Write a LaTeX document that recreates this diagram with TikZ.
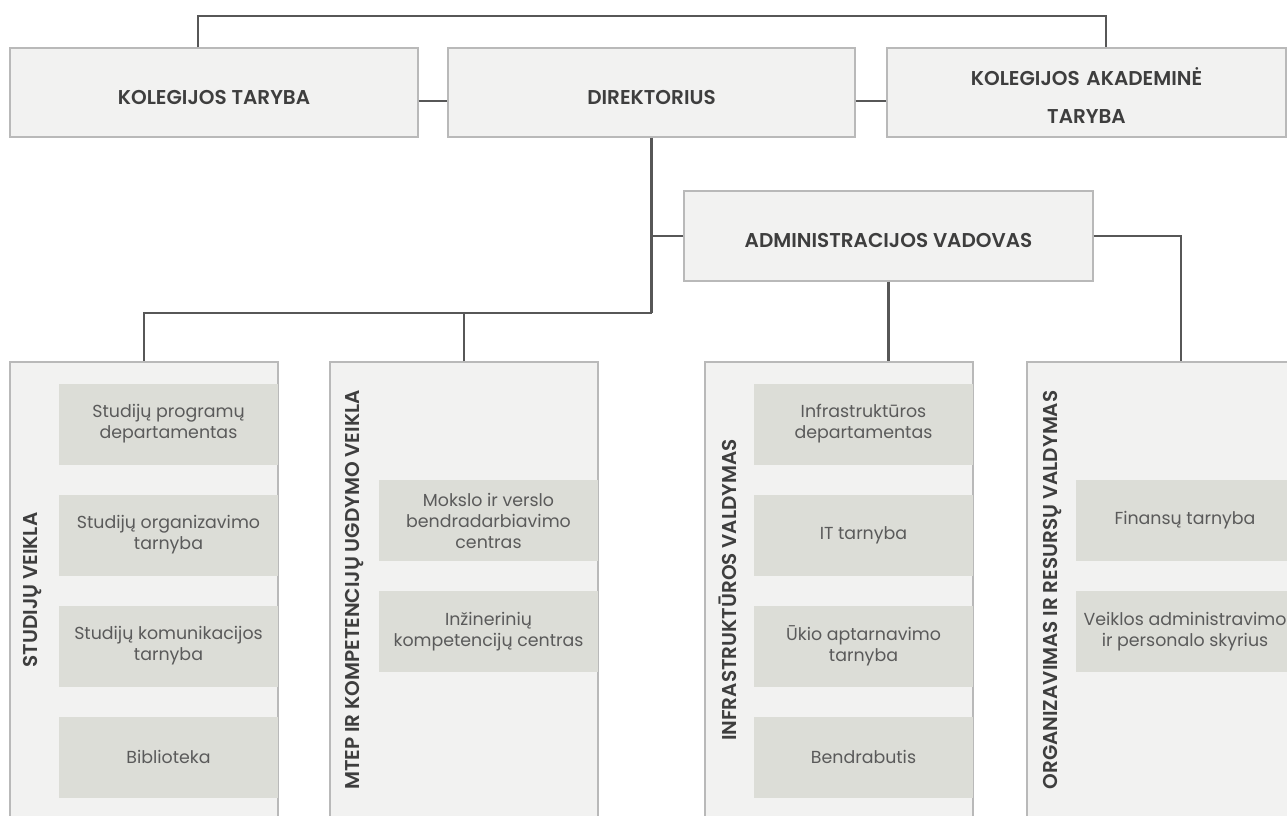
\documentclass[tikz,border=0pt]{standalone}
\usepackage{fontspec}
\IfFontExistsTF{Poppins SemiBold}
  {\setmainfont{Poppins}[BoldFont={Poppins SemiBold}]}
  {\setmainfont{Poppins}}
\usetikzlibrary{calc}

\definecolor{boxfill}{HTML}{F2F2F1}
\definecolor{boxline}{HTML}{B9B9B9}
\definecolor{subfill}{HTML}{DCDDD7}
\definecolor{linkcol}{HTML}{575757}
\definecolor{headtext}{HTML}{3E3E3E}
\definecolor{subtext}{HTML}{5A5A5A}

\tikzset{
  topbox/.style={draw=boxline, line width=1.2pt, fill=boxfill, inner sep=0pt,
    font=\fontsize{20}{24}\selectfont\bfseries, text=headtext, align=center},
  colbox/.style={draw=boxline, line width=1.2pt, fill=boxfill, inner sep=0pt,
    minimum width=268pt, minimum height=470pt},
  subbox/.style={fill=subfill, inner sep=0pt, minimum width=219pt, minimum height=81pt,
    font=\fontsize{17.4}{21}\selectfont, text=subtext, align=center},
  vlabel/.style={rotate=90, inner sep=0pt, font=\fontsize{20}{24}\selectfont\bfseries, text=headtext},
  link/.style={draw=linkcol, line width=2.5pt}
}

\begin{document}
\begin{tikzpicture}[x=1pt,y=-1pt]
% picture frame, same size as the page
\useasboundingbox (0,0) rectangle (1287,816);
\fill[white] (0,0) rectangle (1287,816);
\clip (0,0) rectangle (1287,816);

% top row
\node[topbox, minimum width=408pt, text height=56pt, text depth=33pt] (kt) at (214,92.5) {KOLEGIJOS TARYBA};
\node[topbox, minimum width=407pt, text height=56pt, text depth=33pt] (dir) at (651.5,92.5) {DIREKTORIUS};
\node[topbox, text width=399pt, text height=37pt, text depth=52pt,
  font=\fontsize{20}{38}\selectfont\bfseries] (kat) at (1086.5,92.5) {KOLEGIJOS AKADEMIN\.E\\TARYBA};

% second level
\node[topbox, minimum width=409pt, text height=56pt, text depth=34pt] (adm) at (888.5,236) {ADMINISTRACIJOS VADOVAS};

% columns
\node[colbox] (c1) at (144,597) {};
\node[colbox] (c2) at (464,597) {};
\node[colbox] (c3) at (839,597) {};
\node[colbox] (c4) at (1161,597) {};

\node[vlabel] (c1t) at (33,590) {STUDIJŲ VEIKLA};
\node[vlabel] (c2t) at (355,590) {MTEP IR KOMPETENCIJŲ UGDYMO VEIKLA};
\node[vlabel] (c3t) at (728,590) {INFRASTRUKTŪROS VALDYMAS};
\node[vlabel] (c4t) at (1053,590) {ORGANIZAVIMAS IR RESURSŲ VALDYMAS};

% units inside the columns
\node[subbox] (s11) at (168.5,424) {Studijų programų\\departamentas};
\node[subbox] (s12) at (168.5,535) {Studijų organizavimo\\tarnyba};
\node[subbox] (s13) at (168.5,646) {Studijų komunikacijos\\tarnyba};
\node[subbox] (s14) at (168.5,757) {Biblioteka};

\node[subbox] (s21) at (488.5,520.5) {Mokslo ir verslo\\bendradarbiavimo\\centras};
\node[subbox] (s22) at (488.5,631.5) {Inžinerinių\\kompetencijų centras};

\node[subbox] (s31) at (863.5,424) {Infrastruktūros\\departamentas};
\node[subbox] (s32) at (863.5,535) {IT tarnyba};
\node[subbox] (s33) at (863.5,646) {Ūkio aptarnavimo\\tarnyba};
\node[subbox] (s34) at (863.5,757) {Bendrabutis};

\node[subbox] (s41) at (1185,520.5) {Finansų tarnyba};
\node[subbox] (s42) at (1185,631.5) {Veiklos administravimo\\ir personalo skyrius};

% connectors
\coordinate (tl) at (198,16);
\coordinate (tr) at (1106,16);
\coordinate (my) at (0,101);
\coordinate (hub) at (651.5,313);
\draw[link] (kt.north -| tl) -- (tl) -- (tr) -- (kat.north -| tr);
\draw[link] (kt.east |- my) -- (dir.west |- my);
\draw[link] (dir.east |- my) -- (kat.west |- my);
\draw[link] (dir.south) -- (hub);
\draw[link] (adm.west) -- (adm.west -| hub);
\draw[link] (hub) -| (c1.north);
\draw[link] (c2.north) -- (c2.north |- hub);
\draw[link] (adm.south) -- (adm.south |- c3.north);
\draw[link] (adm.east) -| ([xshift=20pt]c4.north);
\end{tikzpicture}
\end{document}
